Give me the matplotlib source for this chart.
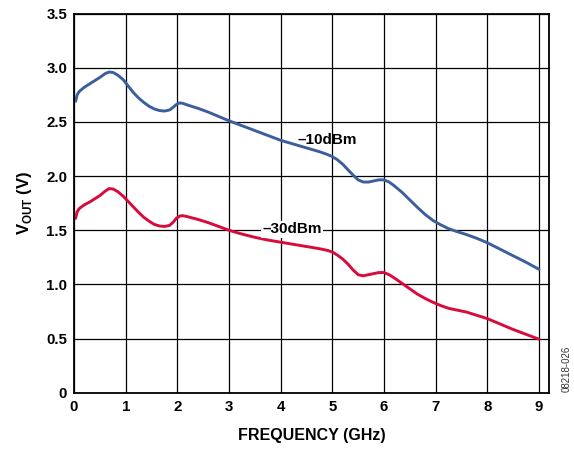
import matplotlib.pyplot as plt
import numpy as np

plt.rcParams['font.family'] = ['Liberation Sans', 'DejaVu Sans']
plt.rcParams['font.weight'] = 'bold'
plt.rcParams['mathtext.fontset'] = 'custom'
plt.rcParams['mathtext.rm'] = 'Liberation Sans:bold'
plt.rcParams['mathtext.bf'] = 'Liberation Sans:bold'

# frequency (GHz)
freq = [0.03, 0.06, 0.1, 0.2, 0.3, 0.4, 0.5, 0.6, 0.68, 0.76, 0.85, 0.95, 1.05, 1.15,
        1.25, 1.35, 1.45, 1.55, 1.65, 1.75, 1.85, 1.92, 1.98, 2.04, 2.1, 2.2, 2.4, 2.6,
        2.8, 3.0, 3.25, 3.5, 3.75, 4.0, 4.25, 4.5, 4.75, 4.9, 5.0, 5.1, 5.2, 5.3, 5.4,
        5.5, 5.6, 5.7, 5.8, 5.9, 6.0, 6.1, 6.2, 6.35, 6.5, 6.65, 6.8, 6.95, 7.1, 7.25,
        7.4, 7.6, 7.8, 8.0, 8.25, 8.5, 8.75, 9.0]
# VOUT (V) at -10dBm
vout_10 = [2.69, 2.75, 2.78, 2.82, 2.85, 2.88, 2.91, 2.945, 2.96, 2.955, 2.93, 2.89, 2.83, 2.77,
           2.72, 2.68, 2.645, 2.62, 2.605, 2.60, 2.61, 2.635, 2.66, 2.675, 2.672, 2.655, 2.625, 2.59,
           2.55, 2.51, 2.465, 2.42, 2.375, 2.33, 2.295, 2.26, 2.225, 2.20, 2.18, 2.15, 2.11, 2.06, 2.01,
           1.965, 1.945, 1.945, 1.955, 1.965, 1.965, 1.945, 1.91, 1.85, 1.78, 1.71, 1.645, 1.59, 1.55, 1.515,
           1.49, 1.46, 1.425, 1.385, 1.325, 1.265, 1.205, 1.14]
# VOUT (V) at -30dBm
vout_30 = [1.61, 1.67, 1.70, 1.735, 1.76, 1.79, 1.82, 1.86, 1.885, 1.88, 1.855, 1.815, 1.765, 1.715,
           1.665, 1.62, 1.585, 1.555, 1.54, 1.535, 1.545, 1.575, 1.61, 1.63, 1.635, 1.625, 1.60, 1.57,
           1.535, 1.50, 1.465, 1.435, 1.41, 1.39, 1.37, 1.35, 1.33, 1.315, 1.30, 1.27, 1.235, 1.19, 1.135,
           1.09, 1.08, 1.09, 1.10, 1.11, 1.11, 1.09, 1.06, 1.01, 0.96, 0.91, 0.87, 0.835, 0.805, 0.78,
           0.765, 0.745, 0.715, 0.685, 0.635, 0.585, 0.54, 0.495]

xticks = list(range(0, 10))
yticks = [0, 0.5, 1.0, 1.5, 2.0, 2.5, 3.0, 3.5]
ytick_labels = ['0', '0.5', '1.0', '1.5', '2.0', '2.5', '3.0', '3.5']

fig = plt.figure(figsize=(5.74, 4.5), dpi=100)
ax = fig.add_axes([0.129, 0.127, 0.827, 0.843])

ax.plot(freq, vout_10, color='#3B5E9C', lw=2.1, solid_capstyle='round', solid_joinstyle='round')
ax.plot(freq, vout_30, color='#D90A3C', lw=2.1, solid_capstyle='round', solid_joinstyle='round')

ax.set_xlim(0, 9.19)
ax.set_ylim(0, 3.5)
ax.set_xticks(xticks)
ax.set_yticks(yticks)
ax.set_yticklabels(ytick_labels)
ax.tick_params(length=0, labelsize=10.8, pad=5)
for lbl in ax.get_xticklabels() + ax.get_yticklabels():
    lbl.set_fontweight('bold')
ax.grid(True, color='black', lw=0.9)
ax.set_axisbelow(True)
for s in ax.spines.values():
    s.set_linewidth(1.3)

ax.text(4.33, 2.33, '\u201310dBm', fontsize=11, fontweight='bold', va='center', ha='left')
ax.text(3.64, 1.51, '\u201330dBm', fontsize=11, fontweight='bold', va='center', ha='left',
        bbox=dict(facecolor='white', edgecolor='none', pad=1))

ax.set_xlabel('FREQUENCY (GHz)', fontsize=11.5, fontweight='bold', labelpad=10)
ax.set_ylabel(r'V$_{\mathrm{OUT}}$ (V)', fontsize=12, fontweight='bold', labelpad=9)

fig.text(0.988, 0.13, '08218-026', rotation=90, fontsize=7, fontweight='normal',
         ha='center', va='bottom', color='#333333')

plt.savefig('out.png', dpi=100)
